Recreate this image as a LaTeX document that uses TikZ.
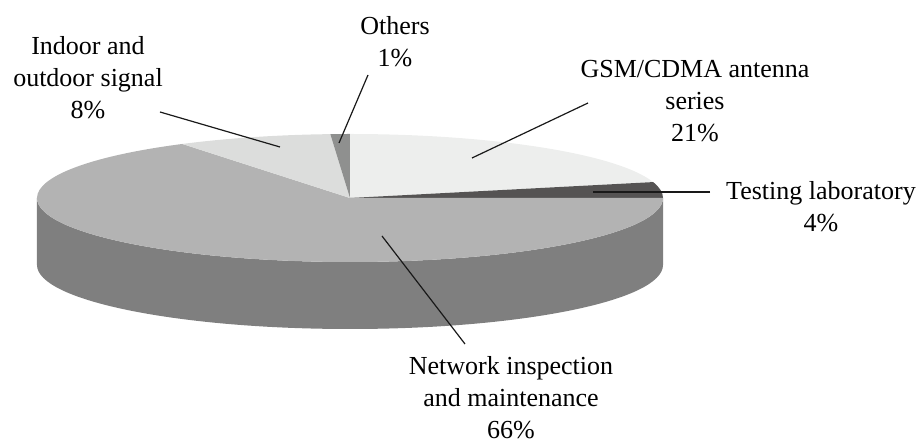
\documentclass[tikz,border=0pt]{standalone}
\usepackage{fontspec}
\setmainfont{Liberation Serif}
\definecolor{gsmgray}{HTML}{EDEEED}
\definecolor{testgray}{HTML}{555353}
\definecolor{netgray}{HTML}{B3B3B3}
\definecolor{sidegray}{HTML}{7F7F7F}
\definecolor{indoorgray}{HTML}{DCDDDC}
\definecolor{othergray}{HTML}{8F908F}
\tikzset{
  lbl/.style={anchor=base, align=center, inner sep=0pt, font=\fontsize{13}{16}\selectfont},
  leader/.style={line width=0.6pt, black!90}
}
\begin{document}
\begin{tikzpicture}[x=0.5pt, y=0.5pt]
  \useasboundingbox (-350,198) rectangle (571,-245);
  % side of the pie
  \fill[sidegray] (-313,0) -- (-313,-67) arc[start angle=180, end angle=360, x radius=313, y radius=64]
    -- (313,0) arc[start angle=0, end angle=-180, x radius=313, y radius=64] -- cycle;
  % slices on top
  \fill[gsmgray] (0,0) -- (90:313 and 64) arc[start angle=90, end angle=14.4, x radius=313, y radius=64] -- cycle;
  \fill[testgray] (0,0) -- (14.4:313 and 64) arc[start angle=14.4, end angle=0, x radius=313, y radius=64] -- cycle;
  \fill[netgray] (0,0) -- (0:313 and 64) arc[start angle=0, end angle=-237.6, x radius=313, y radius=64] -- cycle;
  \fill[indoorgray] (0,0) -- (122.4:313 and 64) arc[start angle=122.4, end angle=93.6, x radius=313, y radius=64] -- cycle;
  \fill[othergray] (0,0) -- (93.6:313 and 64) arc[start angle=93.6, end angle=90, x radius=313, y radius=64] -- cycle;
  % Labels
  \node[lbl] (others) at (45,131) {Others\\1\%};
  \node[lbl] (indoor) at (-262,79) {Indoor and\\outdoor signal\\8\%};
  \node[lbl] (gsm) at (345,56) {GSM/CDMA antenna\\series\\21\%};
  \node[lbl] (testing) at (471,-34) {Testing laboratory\\4\%};
  \node[lbl] (network) at (161,-241) {Network inspection\\and maintenance\\66\%};
  % Leaders
  \coordinate (others-a) at (18,123);  \coordinate (others-b) at (-11,55);
  \coordinate (indoor-a) at (-190,86); \coordinate (indoor-b) at (-70,51);
  \coordinate (gsm-a) at (238,95);     \coordinate (gsm-b) at (122,40);
  \coordinate (testing-a) at (360,6);  \coordinate (testing-b) at (243,6);
  \coordinate (network-a) at (115,-146); \coordinate (network-b) at (32,-38);
  \draw[leader] (others-a) -- (others-b);
  \draw[leader] (indoor-a) -- (indoor-b);
  \draw[leader] (gsm-a) -- (gsm-b);
  \draw[leader] (testing-a) -- (testing-b);
  \draw[leader] (network-a) -- (network-b);
\end{tikzpicture}
\end{document}
